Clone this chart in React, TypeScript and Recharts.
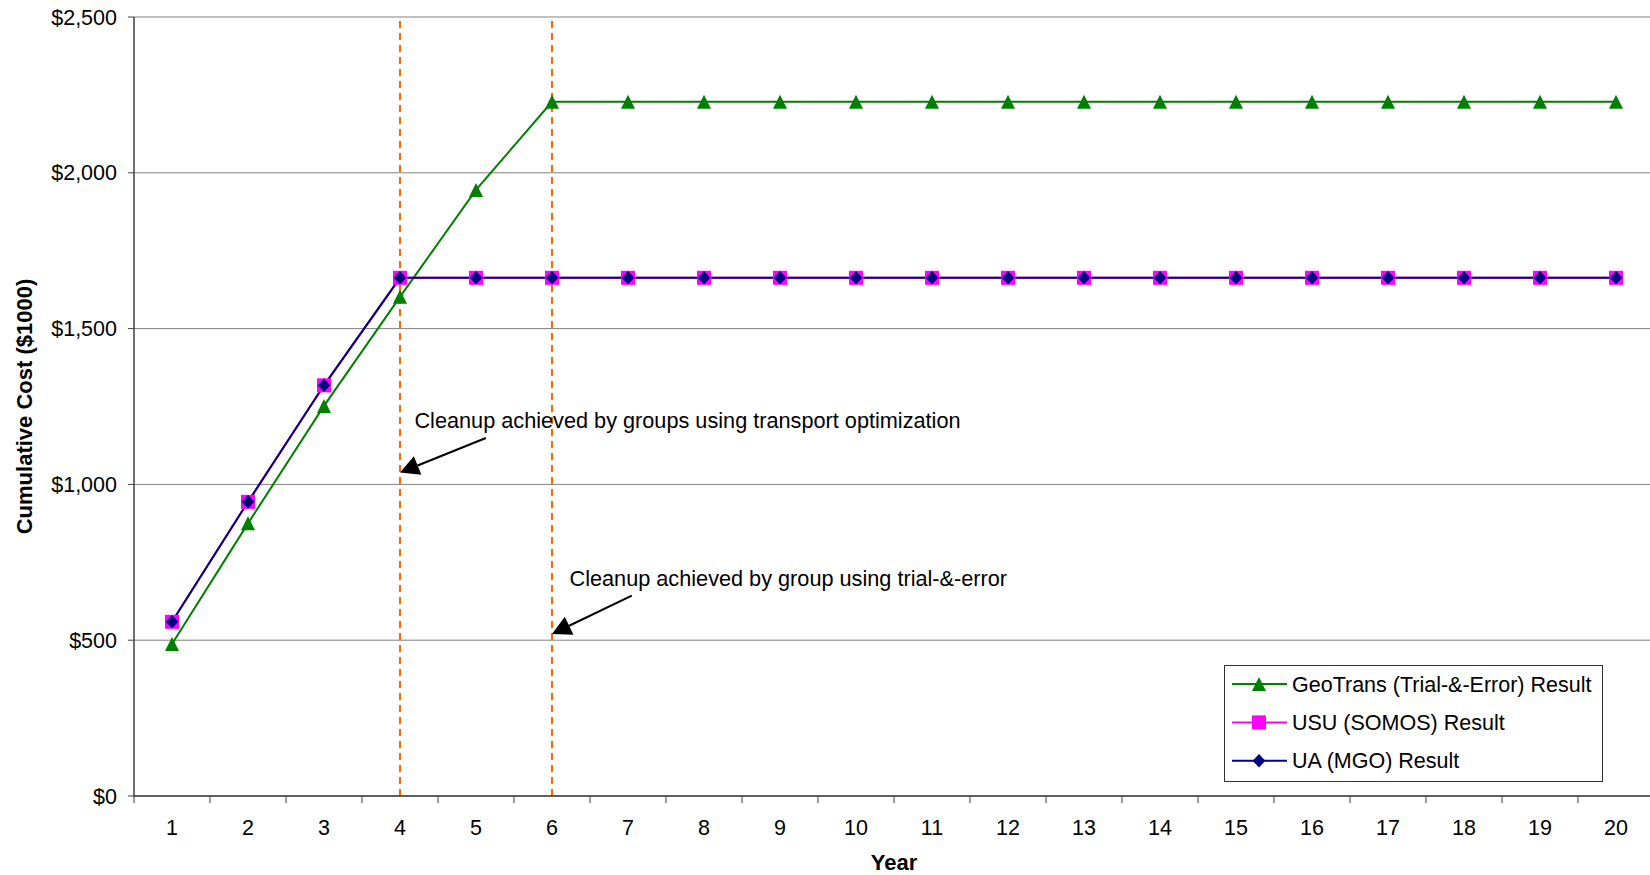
import React from 'react';
import { LineChart, Line, XAxis, YAxis, CartesianGrid, ReferenceLine, ReferenceDot } from 'recharts';

// values ($1000)
const years = [1, 2, 3, 4, 5, 6, 7, 8, 9, 10, 11, 12, 13, 14, 15, 16, 17, 18, 19, 20];
const geoTrans = [488, 875, 1252, 1602, 1945, 2228, 2228, 2228, 2228, 2228, 2228, 2228, 2228, 2228, 2228, 2228, 2228, 2228, 2228, 2228];
const usuSomos = [559, 944, 1318, 1663, 1663, 1663, 1663, 1663, 1663, 1663, 1663, 1663, 1663, 1663, 1663, 1663, 1663, 1663, 1663, 1663];
const uaMgo = [559, 944, 1318, 1663, 1663, 1663, 1663, 1663, 1663, 1663, 1663, 1663, 1663, 1663, 1663, 1663, 1663, 1663, 1663, 1663];
const yTicks = [0, 500, 1000, 1500, 2000, 2500];
const cleanupYears = [4, 6];

const seriesNames = ['GeoTrans (Trial-&-Error) Result', 'USU (SOMOS) Result', 'UA (MGO) Result'];

const data = years.map((year, i) => ({
  year,
  geo: geoTrans[i],
  usu: usuSomos[i],
  ua: uaMgo[i],
}));

// ticks at the category borders carry the tick marks, the whole years carry the labels
const xTicks = [...years.map(y => y - 0.5), years[years.length - 1] + 0.5, ...years].sort((a, b) => a - b);

const annotations = [
  { text: 'Cleanup achieved by groups using transport optimization', textAt: { x: 4.19, y: 1180 }, from: { x: 5.13, y: 1149 }, to: { x: 4, y: 1038 } },
  { text: 'Cleanup achieved by group using trial-&-error', textAt: { x: 6.23, y: 674 }, from: { x: 7.05, y: 643 }, to: { x: 6, y: 520 } },
];

const FONT = '"Liberation Sans", Arial, sans-serif';
const AXIS = '#404040';

const Triangle = ({ cx, cy, color }: any) => (
  <polygon points={`${cx},${cy - 7} ${cx + 7},${cy + 7} ${cx - 7},${cy + 7}`} fill={color} />
);
const Square = ({ cx, cy, color }: any) => <rect x={cx - 7} y={cy - 7} width={14} height={14} fill={color} />;
const Diamond = ({ cx, cy, color }: any) => (
  <polygon points={`${cx},${cy - 6.8} ${cx + 6.3},${cy} ${cx},${cy + 6.8} ${cx - 6.3},${cy}`} fill={color} />
);

const series = [
  { key: 'geo', name: seriesNames[0], color: '#008000', Marker: Triangle },
  { key: 'usu', name: seriesNames[1], color: '#FF00FF', Marker: Square },
  { key: 'ua', name: seriesNames[2], color: '#000080', Marker: Diamond },
];

const XTick = (props: any) => {
  const { x, y, payload } = props;
  const v = payload.value;
  if (Number.isInteger(v)) {
    return (
      <text x={x} y={y + 24} dy="0.355em" textAnchor="middle" fontSize={21.5} fill="#000">
        {v}
      </text>
    );
  }
  return <line x1={x} y1={y - 7} x2={x} y2={y} stroke={AXIS} strokeWidth={1} />;
};

const Arrow = (props: any) => {
  const { x1, y1, x2, y2 } = props;
  const dx = x2 - x1;
  const dy = y2 - y1;
  const len = Math.sqrt(dx * dx + dy * dy);
  const ux = dx / len;
  const uy = dy / len;
  const head = 19;
  const half = 10;
  const bx = x2 - ux * head;
  const by = y2 - uy * head;
  return (
    <g>
      <line x1={x1} y1={y1} x2={bx} y2={by} stroke="#000" strokeWidth={2} />
      <polygon
        points={`${x2},${y2} ${bx - uy * half},${by + ux * half} ${bx + uy * half},${by - ux * half}`}
        fill="#000"
      />
    </g>
  );
};

const Legend = () => (
  <svg width={380} height={117} style={{ position: 'absolute', left: 1224, top: 665 }}>
    <rect x={0.5} y={0.5} width={378} height={116} fill="#fff" stroke="#333" strokeWidth={1} />
    {series.map((s, i) => {
      const cy = 19 + i * 38.4;
      const M = s.Marker;
      return (
        <g key={s.key}>
          <line x1={8} y1={cy} x2={63} y2={cy} stroke={s.color} strokeWidth={2} />
          <M cx={35} cy={cy} color={s.color} />
          <text x={68} y={cy} dy="0.355em" fontSize={21.5} fill="#000" fontFamily={FONT}>
            {s.name}
          </text>
        </g>
      );
    })}
  </svg>
);

export default function App() {
  return (
    <div
      style={{
        position: 'fixed',
        left: 0,
        top: 0,
        width: 1650,
        height: 875,
        overflow: 'hidden',
        background: '#fff',
        fontFamily: FONT,
      }}
    >
      <LineChart width={1660} height={875} data={data} margin={{ top: 17, right: 6, left: 0, bottom: 0 }}>
        <CartesianGrid vertical={false} stroke="#808080" strokeWidth={1} />
        <XAxis
          dataKey="year"
          type="number"
          domain={[0.5, 20.5]}
          ticks={xTicks}
          interval={0}
          height={79}
          tickSize={7}
          tickMargin={0}
          tickLine={false}
          tick={<XTick />}
          axisLine={{ stroke: AXIS, strokeWidth: 1.5 }}
          label={{ value: 'Year', position: 'insideBottom', offset: 5, style: { fontSize: 22, fontWeight: 'bold', fill: '#000' } }}
        />
        <YAxis
          domain={[0, 2500]}
          ticks={yTicks}
          width={134}
          tickSize={6}
          tickMargin={11}
          tickFormatter={(v: number) => `$${v.toLocaleString('en-US')}`}
          tick={{ fontSize: 21.5, fill: '#000' }}
          tickLine={{ stroke: AXIS }}
          axisLine={{ stroke: AXIS, strokeWidth: 1.5 }}
          label={{
            value: 'Cumulative Cost ($1000)',
            angle: -90,
            position: 'insideLeft',
            offset: 24,
            style: { textAnchor: 'middle', fontSize: 22, fontWeight: 'bold', fill: '#000' },
          }}
        />
        {cleanupYears.map(y => (
          <ReferenceLine key={y} x={y} stroke="#FF6600" strokeWidth={2} strokeDasharray="7 5" />
        ))}
        {series.map(s => (
          <Line
            key={s.key}
            type="linear"
            dataKey={s.key}
            name={s.name}
            stroke={s.color}
            strokeWidth={2}
            isAnimationActive={false}
            activeDot={false}
            dot={(p: any) => <s.Marker key={`${s.key}-${p.index}`} cx={p.cx} cy={p.cy} color={s.color} />}
          />
        ))}
        {annotations.map((a, i) => (
          <ReferenceLine key={`arrow-${i}`} segment={[a.from, a.to]} shape={(p: any) => <Arrow {...p} />} />
        ))}
        {annotations.map((a, i) => (
          <ReferenceDot
            key={`text-${i}`}
            x={a.textAt.x}
            y={a.textAt.y}
            r={0}
            shape={(p: any) => (
              <text x={p.cx} y={p.cy} fontSize={21.7} fill="#000">
                {a.text}
              </text>
            )}
          />
        ))}
      </LineChart>
      <Legend />
    </div>
  );
}
